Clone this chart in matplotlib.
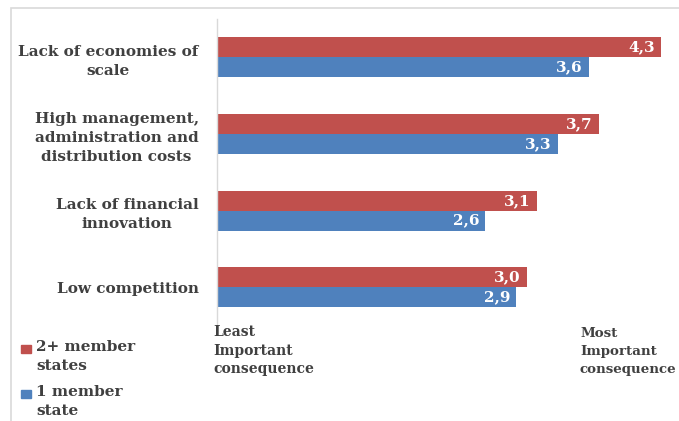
import matplotlib.pyplot as plt
from matplotlib.patches import Rectangle

# Survey results: mean importance score per consequence
categories = [
    "Lack of economies of\nscale",
    "High management,\nadministration and\ndistribution costs",
    "Lack of financial\ninnovation",
    "Low competition",
]
multi_state = [4.3, 3.7, 3.1, 3.0]
single_state = [3.6, 3.3, 2.6, 2.9]
series_names = ["2+ member\nstates", "1 member\nstate"]
series_colors = ["#C0504D", "#4F81BD"]

TEXT = "#404040"
plt.rcParams["font.family"] = ["DejaVu Serif"]
plt.rcParams["font.weight"] = "bold"

fig = plt.figure(figsize=(6.79, 4.21), dpi=100)

# light chart frame
fig.patches.append(Rectangle((11 / 679, -0.1), 1.2, (421 - 8) / 421 + 0.1,
                             transform=fig.transFigure, fill=False,
                             edgecolor="#d9d9d9", linewidth=1.2, zorder=0))

ax = fig.add_axes([216.7 / 679, 1 - 325.7 / 421, 465 / 679, 306.7 / 421])

h = 0.26
ypos = list(range(len(categories)))
for vals, off, col in [(multi_state, -h / 2, series_colors[0]),
                       (single_state, h / 2, series_colors[1])]:
    ys = [y + off for y in ypos]
    ax.barh(ys, vals, height=h, color=col, edgecolor="none")
    for y, v in zip(ys, vals):
        ax.text(v - 0.06, y, f"{v:.1f}".replace(".", ","), ha="right",
                va="center", color="white", fontsize=11, fontweight="bold")

ax.set_xlim(0, 4.5)
ax.set_ylim(len(categories) - 0.5, -0.5)
ax.set_yticks(ypos)
ax.set_yticklabels(categories, fontsize=11, color=TEXT, fontweight="bold",
                   multialignment="center", linespacing=1.45)
ax.tick_params(axis="y", length=0, pad=13)
ax.set_xticks([])
for s in ["top", "right", "bottom"]:
    ax.spines[s].set_visible(False)
ax.spines["left"].set_color("#d9d9d9")
ax.spines["left"].set_linewidth(1.0)

# scale end labels
fig.text(213 / 679, 1 - 325 / 421, "Least\nImportant\nconsequence", ha="left",
         va="top", fontsize=10, color=TEXT, fontweight="bold", linespacing=1.42)
fig.text(580 / 679, 1 - 327 / 421, "Most\nImportant\nconsequence", ha="left",
         va="top", fontsize=9.6, color=TEXT, fontweight="bold", linespacing=1.48)

# legend, markers aligned with first text line
for name, col, ytop in zip(series_names, series_colors, [340, 385]):
    fig.patches.append(Rectangle((21 / 679, 1 - (ytop + 13) / 421), 10 / 679, 8 / 421,
                                 transform=fig.transFigure, color=col))
    fig.text(36 / 679, 1 - ytop / 421, name, ha="left", va="top", fontsize=11,
             color=TEXT, fontweight="bold", linespacing=1.45)

fig.savefig("out.png", dpi=100)
